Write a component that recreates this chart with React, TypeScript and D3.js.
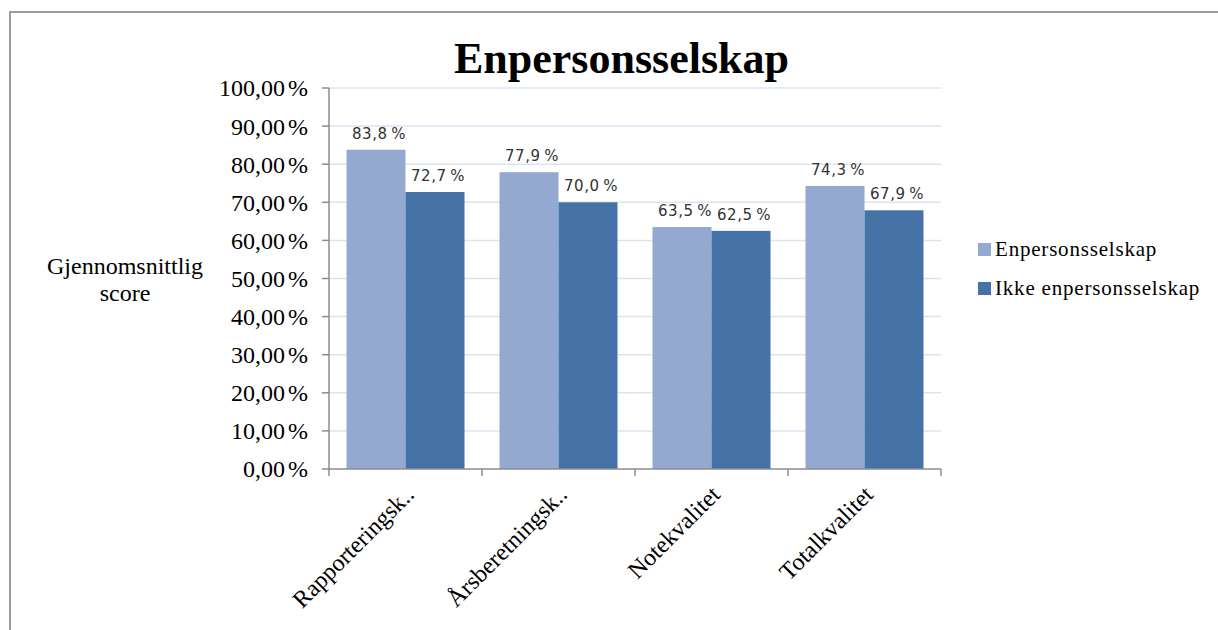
import React from "react";
import * as d3 from "d3";

const categories = ["Rapporteringsk..", "Årsberetningsk..", "Notekvalitet", "Totalkvalitet"];
const seriesNames = ["Enpersonsselskap", "Ikke enpersonsselskap"];
const enperson = [83.8, 77.9, 63.5, 74.3];
const ikkeEnperson = [72.7, 70.0, 62.5, 67.9];
const yTicks = [0, 10, 20, 30, 40, 50, 60, 70, 80, 90, 100];
const colors = ["#94a9d0", "#4572a7"];

const W = 1218;
const H = 630;
const plot = { left: 329, right: 941, top: 88, bottom: 469 };

const serif = "'Liberation Serif', 'Times New Roman', serif";
const sans = "'DejaVu Sans', 'Liberation Sans', sans-serif";

export default function App() {
  const x = d3.scaleBand<string>().domain(categories).range([plot.left, plot.right]).paddingInner(0).paddingOuter(0);
  const inner = d3.scaleBand<string>().domain(seriesNames).range([17.5, x.bandwidth() - 17.5]).padding(0);
  const y = d3.scaleLinear().domain([0, 100]).range([plot.bottom, plot.top]);
  const series = [enperson, ikkeEnperson];
  const fmtTick = (v: number) => d3.format(".2f")(v).replace(".", ",");
  const fmtLabel = (v: number) => d3.format(".1f")(v).replace(".", ",");
  const boundaries = [...categories.map((c) => x(c) as number), plot.right];

  return (
    <div style={{ position: "absolute", left: 0, top: 0 }}>
      <svg width={W} height={H} style={{ display: "block", background: "#fff" }}>
        <rect x={10} y={12} width={W + 20} height={H + 20} fill="#fff" stroke="#9a9a9a" strokeWidth={2} />
        <text x={621.5} y={73} textAnchor="middle" fontFamily={serif} fontWeight="bold" fontSize={44} fill="#000">
          Enpersonsselskap
        </text>

        {/* gridlines */}
        {yTicks.filter((t) => t > 0).map((t) => (
          <line key={"g" + t} x1={plot.left} x2={plot.right} y1={y(t)} y2={y(t)} stroke="#dbe5f1" strokeWidth={1.5} />
        ))}

        {/* bars */}
        {series.map((vals, si) =>
          categories.map((c, ci) => {
            const bx = (x(c) as number) + (inner(seriesNames[si]) as number);
            const bw = inner.bandwidth();
            return (
              <rect key={`b${si}-${ci}`} x={bx} y={y(vals[ci])} width={bw} height={plot.bottom - y(vals[ci])} fill={colors[si]} />
            );
          })
        )}

        {/* data labels */}
        {series.map((vals, si) =>
          categories.map((c, ci) => {
            const bx = (x(c) as number) + (inner(seriesNames[si]) as number) + inner.bandwidth() / 2;
            return (
              <text key={`l${si}-${ci}`} x={bx + 3} y={y(vals[ci]) - 11} textAnchor="middle" fontFamily={sans} fontSize={15} letterSpacing={0.6} fill="#333">
                {fmtLabel(vals[ci]) + "\u2009%"}
              </text>
            );
          })
        )}

        {/* y axis */}
        <line x1={plot.left} x2={plot.left} y1={plot.top} y2={plot.bottom} stroke="#8c8c8c" strokeWidth={1.5} />
        {yTicks.map((t) => (
          <g key={"yt" + t}>
            <line x1={plot.left - 7} x2={plot.left} y1={y(t)} y2={y(t)} stroke="#8c8c8c" strokeWidth={1.5} />
            <text x={308} y={y(t)} dy="0.35em" textAnchor="end" fontFamily={serif} fontSize={24} fill="#000">
              {fmtTick(t)}
              <tspan dx={3}>%</tspan>
            </text>
          </g>
        ))}

        {/* x axis */}
        <line x1={plot.left} x2={plot.right} y1={plot.bottom} y2={plot.bottom} stroke="#8c8c8c" strokeWidth={1.5} />
        {boundaries.map((bx, i) => (
          <line key={"xt" + i} x1={bx} x2={bx} y1={plot.bottom} y2={plot.bottom + 7} stroke="#8c8c8c" strokeWidth={1.5} />
        ))}
        {categories.map((c) => {
          const cx = (x(c) as number) + x.bandwidth() / 2 + 10;
          const cy = plot.bottom + 27;
          return (
            <text key={"xl" + c} x={cx} y={cy} textAnchor="end" transform={`rotate(-45 ${cx} ${cy})`} fontFamily={serif} fontSize={24} fill="#000">
              {c}
            </text>
          );
        })}

        {/* y axis title */}
        <text x={125} y={274} textAnchor="middle" fontFamily={serif} fontSize={24} fill="#000">Gjennomsnittlig</text>
        <text x={125} y={301} textAnchor="middle" fontFamily={serif} fontSize={24} fill="#000">score</text>

        {/* legend */}
        {seriesNames.map((s, i) => (
          <g key={"lg" + i}>
            <rect x={978} y={243 + i * 39} width={13} height={13} fill={colors[i]} />
            <text x={995} y={256 + i * 39} fontFamily={serif} fontSize={21} letterSpacing={0.8} fill="#000">{s}</text>
          </g>
        ))}
      </svg>
    </div>
  );
}
